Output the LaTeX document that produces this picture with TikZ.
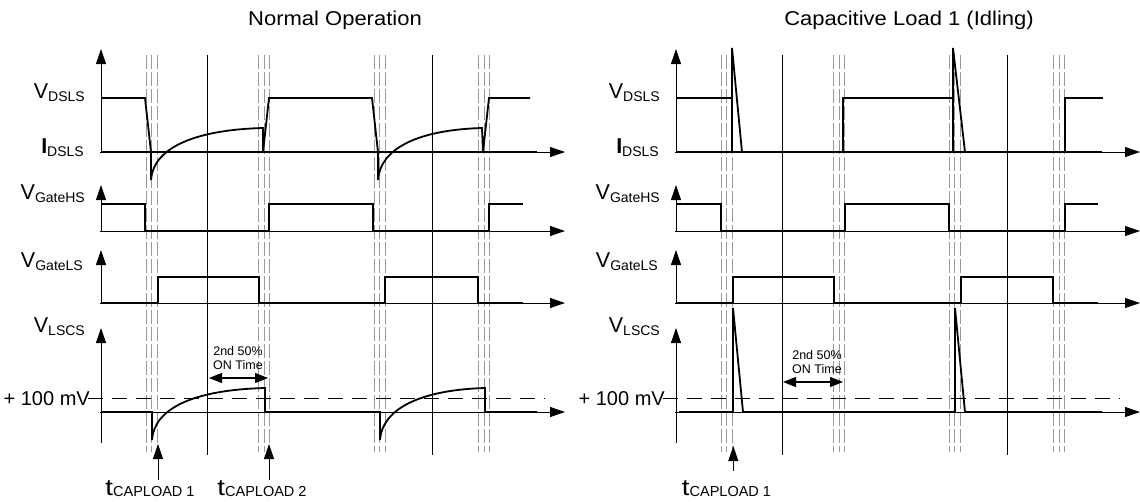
\documentclass[tikz,border=0pt]{standalone}
\usepackage{fontspec}
\setmainfont{Liberation Sans}
\usetikzlibrary{arrows.meta}
\tikzset{axis/.style = {line width=0.9pt, -{Triangle[length=15pt,width=10pt]}}}
\tikzset{wave/.style = {line width=1.8pt}}
\tikzset{guide/.style = {black!40, line width=1pt, dash pattern=on 14pt off 3pt}}
\tikzset{cursor/.style = {line width=0.9pt}}
\tikzset{threshold/.style = {line width=0.9pt, dash pattern=on 15pt off 9pt}}
\tikzset{span/.style = {line width=1.1pt, {Triangle[length=13pt,width=10pt]}-{Triangle[length=13pt,width=10pt]}}}
\tikzset{sig/.style = {anchor=base east, inner sep=0}}
\tikzset{note/.style = {align=center, inner sep=0, font=\fontsize{12.5}{13.3}\selectfont}}
\newcommand{\sgn}[2]{{\fontsize{21.5}{21}\selectfont #1}\raisebox{-3.4pt}{\fontsize{14}{14}\selectfont #2}}
\newcommand{\tcap}[1]{\scalebox{1.2}[1]{\fontsize{23}{22}\selectfont t}\raisebox{-1pt}{\fontsize{14.5}{14}\selectfont CAPLOAD #1}}
\newcommand{\ttl}[1]{\scalebox{1.1}[1]{\fontsize{20}{20}\selectfont #1}}

\begin{document}
\begin{tikzpicture}[x=1pt, y=-1pt]
  \useasboundingbox (0,0) rectangle (1140,501);

  % Titles
  \node (ttlA) at (335,20) {\ttl{Normal Operation}};
  \node (ttlB) at (909,20) {\ttl{Capacitive Load 1 (Idling)}};

  % Grid, axes and labels of both panels
  \foreach \off in {0,575} {
    \begin{scope}[xshift=\off]
      \foreach \c in {151.7,264.3,379.7,484}
        \foreach \d in {-5.7,0,5.5}
          \draw[guide] (\c+\d,55) -- (\c+\d,452);
      \draw[cursor] (207.7,55) -- (207.7,455);
      \draw[cursor] (432,55) -- (432,455);

      % Draw axes
      \draw[axis] (101,152) -- (101,49);
      \draw[axis] (100,152) -- (565,152);
      \draw[axis] (101,231) -- (101,185);
      \draw[axis] (100,231) -- (565,231);
      \draw[axis] (101,303) -- (101,250);
      \draw[axis] (100,303) -- (565,303);
      \draw[axis] (101,443) -- (101,328);
      \draw[axis] (100,412) -- (565,412);
      \draw[threshold] (88,398) -- (545,398);

      \node[sig] (vds\off) at (85,98.5) {\sgn{V}{DSLS}};
      \node[sig] (ids\off) at (84,153) {\sgn{\textbf{I}}{DSLS}};
      \node[sig] (vhs\off) at (85,199) {\sgn{V}{GateHS}};
      \node[sig] (vls\off) at (83,267) {\sgn{V}{GateLS}};
      \node[sig] (vcs\off) at (85,332) {\sgn{V}{LSCS}};
      \node[sig] (mv\off) at (90,405) {\fontsize{20}{20}\selectfont + 100 mV};
    \end{scope}
  }

  % Normal operation
  \draw[wave] (101,152) -- (537,152);
  \draw[wave] (101,98) -- (145,98) -- (151,152) -- (151,180)
    .. controls (153,150) and (190,130) .. (263,128) -- (263,152) -- (269,98)
    -- (372,98) -- (378,152) -- (378,180)
    .. controls (380,150) and (415,130) .. (482,128) -- (483,152) -- (489,98)
    -- (530,98);
  \draw[wave] (101,204) -- (145,204) -- (145,231) -- (269,231) -- (269,204)
    -- (373,204) -- (373,231) -- (489,231) -- (489,204) -- (523,204);
  \draw[wave] (101,303) -- (158,303) -- (158,277) -- (259,277) -- (259,303)
    -- (385,303) -- (385,277) -- (478,277) -- (478,303) -- (523,303);
  \draw[wave] (101,412) -- (152,412) -- (152,440)
    .. controls (154,410) and (190,390) .. (265,388) -- (265,412) -- (380,412)
    -- (380,440) .. controls (382,410) and (418,390) .. (485,388) -- (485,412)
    -- (537,412);

  \node[note] (onA) at (238,358) {2nd 50\%\\ON Time};
  \coordinate (onA1) at (209,378);
  \coordinate (onA2) at (268,378);
  \draw[span] (onA1) -- (onA2);

  \node[anchor=base] (tA1) at (150,495) {\tcap{1}};
  \node[anchor=base] (tA2) at (262,495) {\tcap{2}};
  \coordinate (tA1a) at (158,480);
  \coordinate (tA1b) at (158,444);
  \coordinate (tA2a) at (269,480);
  \coordinate (tA2b) at (269,444);
  \draw[axis] (tA1a) -- (tA1b);
  \draw[axis] (tA2a) -- (tA2b);

  % Capacitive load
  \begin{scope}[xshift=575]
    \draw[wave] (101,152) -- (527,152);
    \draw[wave] (102,98) -- (157,98);
    \draw[wave] (157,152) -- (157,48) -- (167,152);
    \draw[wave] (268,152) -- (268,98) -- (378,98);
    \draw[wave] (378,152) -- (378,48) -- (390,152);
    \draw[wave] (490,152) -- (490,98) -- (528,98);
    \draw[wave] (101,204) -- (146,204) -- (146,231) -- (270,231) -- (270,204)
      -- (374,204) -- (374,231) -- (490,231) -- (490,204) -- (523,204);
    \draw[wave] (101,303) -- (158,303) -- (158,277) -- (259,277) -- (259,303)
      -- (386,303) -- (386,277) -- (478,277) -- (478,303) -- (523,303);
    \draw[wave] (104,412) -- (158,412) -- (158,308) -- (168,412) -- (380,412)
      -- (380,308) -- (390,412) -- (527,412);

    \node[note] (onB) at (242,362) {2nd 50\%\\ON Time};
    \coordinate (onB1) at (208,382);
    \coordinate (onB2) at (268,382);
    \draw[span] (onB1) -- (onB2);

    \node[anchor=base] (tB1) at (151.5,495) {\tcap{1}};
    \coordinate (tB1a) at (158.3,471);
    \coordinate (tB1b) at (158.3,446);
    \draw[axis] (tB1a) -- (tB1b);
  \end{scope}
\end{tikzpicture}
\end{document}
